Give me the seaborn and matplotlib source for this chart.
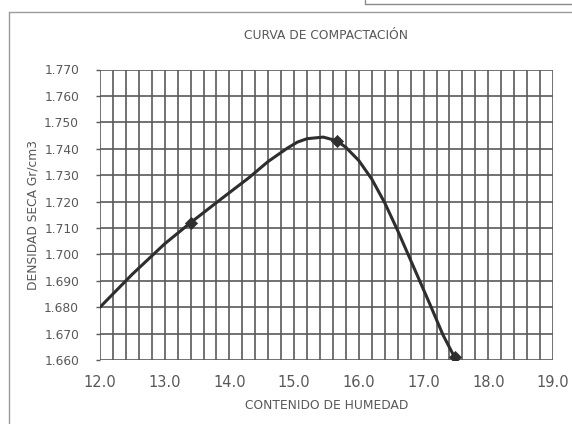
import numpy as np
import pandas as pd
import seaborn as sns
import matplotlib.pyplot as plt
from matplotlib.lines import Line2D
from matplotlib.ticker import MultipleLocator, FormatStrFormatter

# Puntos de ensayo (humedad %, densidad seca g/cm3)
humedad_ensayo = [13.4, 15.66, 17.48]
densidad_ensayo = [1.712, 1.743, 1.661]

# Curva de compactacion trazada
humedad_curva = [12.0, 12.5, 13.0, 13.4, 13.9, 14.3, 14.6, 14.9, 15.05, 15.2,
                 15.45, 15.66, 15.8, 16.0, 16.2, 16.4, 16.6, 16.85, 17.1, 17.3,
                 17.48]
densidad_curva = [1.680, 1.6925, 1.704, 1.712, 1.7215, 1.729, 1.7352, 1.7403,
                  1.7425, 1.7438, 1.7444, 1.7430, 1.7405, 1.7355, 1.7285,
                  1.7195, 1.709, 1.695, 1.681, 1.6695, 1.661]

curva = pd.DataFrame({"humedad": humedad_curva, "densidad": densidad_curva})
ensayo = pd.DataFrame({"humedad": humedad_ensayo, "densidad": densidad_ensayo})

sns.set_theme(style="white")
plt.rcParams['font.family'] = ['DejaVu Sans']

fig = plt.figure(figsize=(5.72, 4.24), dpi=100)
ax = fig.add_axes([100 / 572, 1 - 360 / 424, 453 / 572, (360 - 69.5) / 424])

text_color = "#585858"
grid_color = "#5a5a5a"

sns.lineplot(data=curva, x="humedad", y="densidad", sort=False, ax=ax,
             color="#2e2e2e", linewidth=2.2, zorder=3)
sns.scatterplot(data=ensayo, x="humedad", y="densidad", ax=ax, marker="D",
                s=38, color="#2e2e2e", edgecolor="#2e2e2e", zorder=4)

ax.set_xlim(12.0, 19.0)
ax.set_ylim(1.660, 1.770)
ax.xaxis.set_major_locator(MultipleLocator(1.0))
ax.xaxis.set_minor_locator(MultipleLocator(0.2))
ax.yaxis.set_major_locator(MultipleLocator(0.01))
ax.xaxis.set_major_formatter(FormatStrFormatter("%.1f"))
ax.yaxis.set_major_formatter(FormatStrFormatter("%.3f"))

ax.grid(True, which="both", axis="x", color=grid_color, linewidth=1.2)
ax.grid(True, which="major", axis="y", color=grid_color, linewidth=1.2)
ax.set_axisbelow(True)
for s in ax.spines.values():
    s.set_visible(False)

ax.tick_params(axis="y", which="major", length=3, width=1, color=grid_color,
               labelsize=8.8, labelcolor=text_color, pad=12, left=True)
ax.tick_params(axis="x", which="both", length=0, labelsize=10.5,
               labelcolor=text_color, pad=11)

ax.set_xlabel("CONTENIDO DE HUMEDAD", fontsize=8.8, color=text_color, labelpad=6)
ax.set_ylabel("DENSIDAD SECA Gr/cm3", fontsize=8.8, color=text_color, labelpad=3)
ax.set_title("CURVA DE COMPACTACIÓN", fontsize=8.8, color=text_color, pad=22)

# Marco del formato
fig.add_artist(Line2D([9 / 572, 9 / 572], [0, 1 - 12 / 424], color="#9a9a9a", lw=1.0))
fig.add_artist(Line2D([9 / 572, 1], [1 - 12 / 424, 1 - 12 / 424], color="#9a9a9a", lw=1.0))
fig.add_artist(Line2D([365 / 572, 1], [1 - 4 / 424, 1 - 4 / 424], color="#8a8a8a", lw=1.0))
fig.add_artist(Line2D([365 / 572, 365 / 572], [1 - 4 / 424, 1], color="#8a8a8a", lw=1.0))

fig.savefig("out.png", dpi=100)
